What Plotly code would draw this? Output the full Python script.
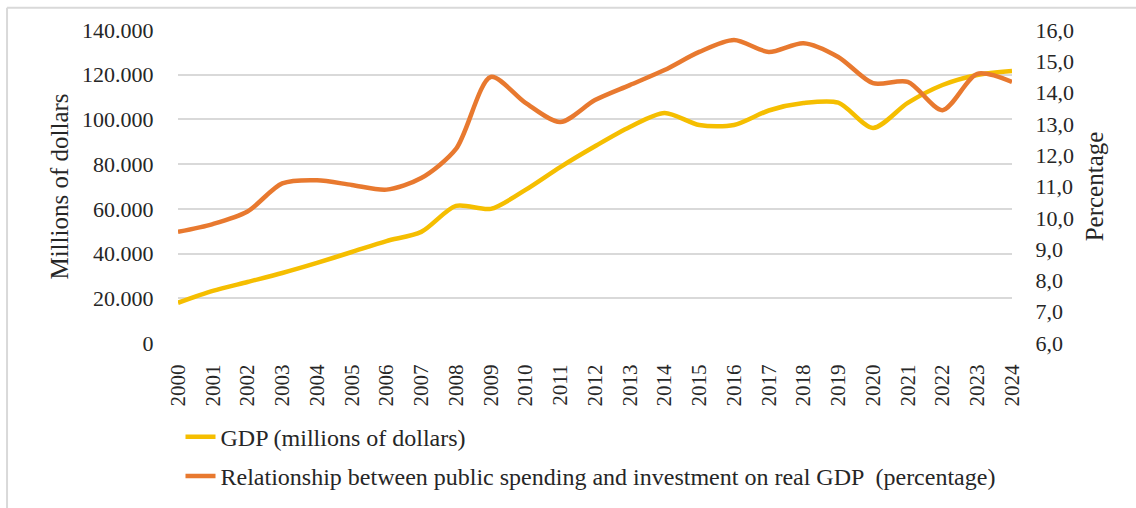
import plotly.graph_objects as go

years = list(range(2000, 2025))
year_labels = [str(y) for y in years]

gdp_millions = [18000, 23300, 27300, 31300, 35800, 40700, 45600, 49700, 61300, 60000,
                68500, 78700, 88000, 96600, 102900, 97500, 97500, 104000, 107300, 107500,
                96200, 107400, 115400, 119900, 121700]

spending_pct = [9.55, 9.8, 10.2, 11.1, 11.2, 11.05, 10.9, 11.27, 12.2, 14.5,
                13.67, 13.06, 13.76, 14.24, 14.72, 15.3, 15.68, 15.3, 15.58, 15.14,
                14.3, 14.34, 13.44, 14.6, 14.34]

left_ticks = [0, 20000, 40000, 60000, 80000, 100000, 120000, 140000]
right_ticks = [6, 7, 8, 9, 10, 11, 12, 13, 14, 15, 16]

FONT = "Liberation Serif"
TEXT = "#262626"
GDP_COLOR = "#F5BE00"
PCT_COLOR = "#E8792F"
NO_TICK = "rgba(0,0,0,0)"

fig = go.Figure()
fig.add_trace(go.Scatter(
    x=years, y=gdp_millions, mode="lines", name="GDP (millions of dollars)",
    line=dict(color=GDP_COLOR, width=4.5, shape="spline", smoothing=0.8),
    legendgroup="gdp",
))
fig.add_trace(go.Scatter(
    x=years, y=spending_pct, mode="lines", yaxis="y2",
    name="Relationship between public spending and investment on real GDP  (percentage)",
    line=dict(color=PCT_COLOR, width=4.5, shape="spline", smoothing=0.8),
    legendgroup="pct",
))

fig.update_layout(
    width=1136, height=508,
    margin=dict(l=178, r=124, t=30, b=165, autoexpand=False),
    paper_bgcolor="white", plot_bgcolor="white",
    separators=",.",
    font=dict(family=FONT, size=20, color=TEXT),
    showlegend=True,
    legend=dict(
        x=0.003, y=-0.229, xanchor="left", yanchor="top",
        orientation="v", tracegroupgap=5,
        font=dict(family=FONT, size=24, color=TEXT),
        bgcolor="rgba(0,0,0,0)", itemwidth=30,
    ),
    xaxis=dict(
        range=[2000, 2024], tickvals=years, ticktext=year_labels,
        tickangle=-90, showgrid=False, zeroline=False, showline=False,
        ticks="outside", ticklen=12, tickcolor=NO_TICK,
        tickfont=dict(family=FONT, size=21, color=TEXT),
    ),
    yaxis=dict(
        range=[0, 140000], tickvals=left_ticks, tickformat=",d",
        showgrid=True, gridcolor="#D9D9D9", gridwidth=1.5,
        zeroline=False, showline=False,
        ticks="outside", ticklen=19, tickcolor=NO_TICK,
        tickfont=dict(family=FONT, size=22, color=TEXT),
        title=dict(text="Millions of dollars", font=dict(family=FONT, size=25, color=TEXT),
                   standoff=6),
    ),
    yaxis2=dict(
        range=[6, 16], tickvals=right_ticks, tickformat=".1f",
        overlaying="y", side="right", showgrid=False, zeroline=False,
        showline=False, ticks="outside", ticklen=18, tickcolor=NO_TICK,
        tickfont=dict(family=FONT, size=22, color=TEXT),
        title=dict(text="Percentage", font=dict(family=FONT, size=25, color=TEXT),
                   standoff=12),
    ),
    shapes=[
        dict(type="line", xref="paper", yref="paper", x0=-0.205, x1=1.2, y0=1.071, y1=1.071,
             line=dict(color="#D9D9D9", width=2)),
        dict(type="line", xref="paper", yref="paper", x0=-0.205, x1=-0.205, y0=1.071, y1=-0.6,
             line=dict(color="#D9D9D9", width=2)),
    ],
)

fig.write_html("out.html")
